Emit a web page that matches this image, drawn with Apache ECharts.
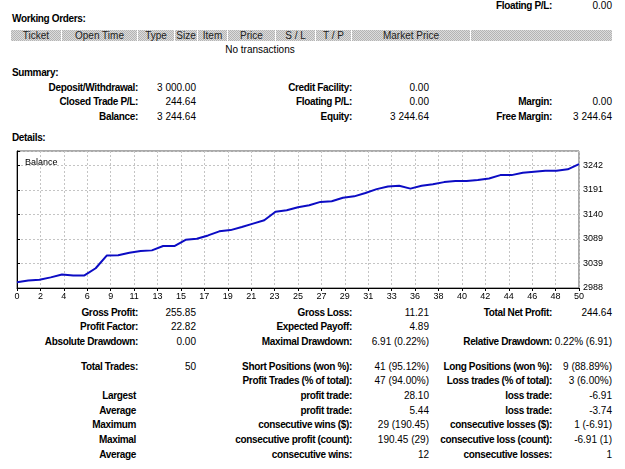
<!DOCTYPE html>
<html>
<head>
<meta charset="utf-8">
<script src="https://cdn.jsdelivr.net/npm/echarts@6/dist/echarts.min.js"></script>
<style>
  html, body { margin: 0; padding: 0; background: #fff; }
  body { width: 625px; height: 469px; position: relative; overflow: hidden;
         font-family: "Liberation Sans", Arial, sans-serif; font-size: 10px; color: #000; }
  .t { position: absolute; white-space: nowrap; line-height: 12px; height: 12px; }
  .b { font-weight: bold; letter-spacing: -0.35px; }
  .band { position: absolute; left: 11px; top: 30px; width: 601px; height: 11px;
          background: repeating-conic-gradient(#b4b4b4 0 25%, #dcdcdc 0 50%) 0 0 / 2px 2px; }
  .cell { position: absolute; top: 30px; height: 11px; line-height: 11px; text-align: center; color: #222; }
  .sep { position: absolute; top: 30px; width: 1px; height: 11px; background: #fff; }
  #chart { position: absolute; left: 0; top: 145px; width: 625px; height: 160px; }
</style>
</head>
<body>
<div class="band"></div>
<div id="report"></div>
<div id="chart"></div>
<script>
  // balance curve, one value per closed trade (0 = initial deposit)
  const tradeNo = [0,1,2,3,4,5,6,7,8,9,10,11,12,13,14,15,16,17,18,19,20,21,22,23,24,25,
    26,27,28,29,30,31,32,33,34,35,36,37,38,39,40,41,42,43,44,45,46,47,48,49,50];
  const balance = [3000.00, 3003.6, 3005.0, 3010.0, 3016.0, 3014.0, 3014.0, 3029.0, 3055.5, 3056.0,
    3061.0, 3064.5, 3066.0, 3075.0, 3075.0, 3088.0, 3090.0, 3097.0, 3105.5, 3108.0,
    3114.5, 3121.5, 3128.5, 3146.0, 3149.0, 3155.5, 3159.6, 3166.5, 3168.0, 3175.0,
    3178.0, 3185.0, 3193.0, 3198.5, 3199.8, 3194.0, 3200.0, 3203.0, 3207.5, 3210.0,
    3210.0, 3212.0, 3215.0, 3222.0, 3222.0, 3227.0, 3229.0, 3231.0, 3231.0, 3234.0, 3244.64];
  const xTickLabels = ['0','2','4','6','9','11','13','15','17','19','21','23','25','27','29',
    '31','33','36','38','40','42','44','46','48','50'];
  const yTickLabels = ['2988','3039','3089','3140','3191','3242'];

  const orderColumns = ['Ticket','Open Time','Type','Size','Item','Price','S / L','T / P','Market Price',''];
  const orderColEdges = [11, 62, 138, 175, 198, 228, 276, 316, 352, 471, 612];

  // report text: [text, x, y, align, bold]
  const report = [
    ['Floating P/L:', 552, 5, 'r', 1], ['0.00', 612, 5, 'r', 0],
    ['Working Orders:', 12, 18, 'l', 1],
    ['No transactions', 260, 49, 'c', 0],
    ['Summary:', 12, 72, 'l', 1],
    ['Deposit/Withdrawal:', 138, 87, 'r', 1], ['3 000.00', 196, 87, 'r', 0],
    ['Credit Facility:', 352, 87, 'r', 1], ['0.00', 429, 87, 'r', 0],
    ['Closed Trade P/L:', 138, 101, 'r', 1], ['244.64', 196, 101, 'r', 0],
    ['Floating P/L:', 352, 101, 'r', 1], ['0.00', 429, 101, 'r', 0],
    ['Margin:', 552, 101, 'r', 1], ['0.00', 612, 101, 'r', 0],
    ['Balance:', 138, 116, 'r', 1], ['3 244.64', 196, 116, 'r', 0],
    ['Equity:', 352, 116, 'r', 1], ['3 244.64', 429, 116, 'r', 0],
    ['Free Margin:', 552, 116, 'r', 1], ['3 244.64', 612, 116, 'r', 0],
    ['Details:', 12, 137, 'l', 1],
    ['Gross Profit:', 138, 312, 'r', 1], ['255.85', 196, 312, 'r', 0],
    ['Gross Loss:', 352, 312, 'r', 1], ['11.21', 429, 312, 'r', 0],
    ['Total Net Profit:', 552, 312, 'r', 1], ['244.64', 612, 312, 'r', 0],
    ['Profit Factor:', 138, 326, 'r', 1], ['22.82', 196, 326, 'r', 0],
    ['Expected Payoff:', 352, 326, 'r', 1], ['4.89', 429, 326, 'r', 0],
    ['Absolute Drawdown:', 138, 341, 'r', 1], ['0.00', 196, 341, 'r', 0],
    ['Maximal Drawdown:', 352, 341, 'r', 1], ['6.91 (0.22%)', 429, 341, 'r', 0],
    ['Relative Drawdown:', 552, 341, 'r', 1], ['0.22% (6.91)', 612, 341, 'r', 0],
    ['Total Trades:', 138, 366, 'r', 1], ['50', 196, 366, 'r', 0],
    ['Short Positions (won %):', 352, 366, 'r', 1], ['41 (95.12%)', 429, 366, 'r', 0],
    ['Long Positions (won %):', 552, 366, 'r', 1], ['9 (88.89%)', 612, 366, 'r', 0],
    ['Profit Trades (% of total):', 352, 380, 'r', 1], ['47 (94.00%)', 429, 380, 'r', 0],
    ['Loss trades (% of total):', 552, 380, 'r', 1], ['3 (6.00%)', 612, 380, 'r', 0],
    ['Largest', 136, 395, 'r', 1], ['profit trade:', 352, 395, 'r', 1], ['28.10', 429, 395, 'r', 0],
    ['loss trade:', 552, 395, 'r', 1], ['-6.91', 612, 395, 'r', 0],
    ['Average', 136, 410, 'r', 1], ['profit trade:', 352, 410, 'r', 1], ['5.44', 429, 410, 'r', 0],
    ['loss trade:', 552, 410, 'r', 1], ['-3.74', 612, 410, 'r', 0],
    ['Maximum', 136, 424, 'r', 1], ['consecutive wins ($):', 352, 424, 'r', 1], ['29 (190.45)', 429, 424, 'r', 0],
    ['consecutive losses ($):', 552, 424, 'r', 1], ['1 (-6.91)', 612, 424, 'r', 0],
    ['Maximal', 136, 439, 'r', 1], ['consecutive profit (count):', 352, 439, 'r', 1], ['190.45 (29)', 429, 439, 'r', 0],
    ['consecutive loss (count):', 552, 439, 'r', 1], ['-6.91 (1)', 612, 439, 'r', 0],
    ['Average', 136, 454, 'r', 1], ['consecutive wins:', 352, 454, 'r', 1], ['12', 429, 454, 'r', 0],
    ['consecutive losses:', 552, 454, 'r', 1], ['1', 612, 454, 'r', 0]
  ];

  const root = document.getElementById('report');
  report.forEach(([text, x, y, align, bold]) => {
    const el = document.createElement('div');
    el.className = 't' + (bold ? ' b' : '');
    el.textContent = text;
    el.style.top = (y - 5) + 'px';
    if (align === 'r') el.style.right = (625 - x) + 'px';
    else if (align === 'c') { el.style.left = (x - 100) + 'px'; el.style.width = '200px'; el.style.textAlign = 'center'; }
    else el.style.left = x + 'px';
    root.appendChild(el);
  });

  orderColumns.forEach((name, i) => {
    const c = document.createElement('div');
    c.className = 'cell';
    c.style.left = orderColEdges[i] + 'px';
    c.style.width = (orderColEdges[i + 1] - orderColEdges[i] - 1) + 'px';
    c.textContent = name;
    root.appendChild(c);
    if (i > 0) {
      const s = document.createElement('div');
      s.className = 'sep';
      s.style.left = (orderColEdges[i] - 1) + 'px';
      root.appendChild(s);
    }
  });

  const chart = echarts.init(document.getElementById('chart'));
  const gridLine = { show: true, lineStyle: { color: '#c4c4c4', type: [2, 2], width: 1 } };
  chart.setOption({
    animation: false,
    title: {
      text: 'Balance', left: 20, top: 8,
      textStyle: { fontSize: 9, fontWeight: 'normal', color: '#000', fontFamily: 'Liberation Sans' }
    },
    grid: { left: 17, top: 6, width: 562, height: 137, show: true, borderColor: '#555', borderWidth: 1, backgroundColor: '#fff' },
    xAxis: {
      type: 'value', min: 0, max: 50, interval: 50 / 24,
      axisLine: { lineStyle: { color: '#000' } },
      axisTick: { show: true, length: 3, lineStyle: { color: '#000' } },
      axisLabel: {
        fontSize: 9, color: '#000', margin: 4, fontFamily: 'Liberation Sans',
        formatter: (v, i) => xTickLabels[i] || ''
      },
      splitLine: gridLine
    },
    yAxis: {
      type: 'value', position: 'right', min: 2988, max: 3272, interval: 50.8,
      axisLine: { show: true, lineStyle: { color: '#000' } },
      axisTick: { show: true, length: 3, lineStyle: { color: '#000' } },
      axisLabel: {
        fontSize: 9, color: '#000', margin: 4, fontFamily: 'Liberation Sans',
        formatter: (v, i) => yTickLabels[i] || ''
      },
      splitLine: gridLine
    },
    series: [{
      name: 'Balance',
      type: 'line',
      data: tradeNo.map((n, i) => [n, balance[i]]),
      symbol: 'none',
      lineStyle: { color: '#0c0cc4', width: 2 }
    }]
  });
</script>
</body>
</html>
